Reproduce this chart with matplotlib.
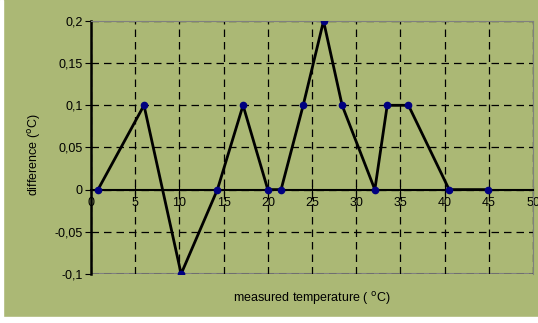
import matplotlib.pyplot as plt
from matplotlib.patches import Rectangle
from matplotlib.ticker import FuncFormatter

# measured temperature vs difference
temp = [0.8, 6.0, 10.2, 14.3, 17.2, 20.0, 21.5, 24.0, 26.3, 28.4, 32.1, 33.5, 35.9, 40.5, 44.9]
diff = [0, 0.1, -0.1, 0, 0.1, 0, 0, 0.1, 0.2, 0.1, 0, 0.1, 0.1, 0, 0]

xticks = [0, 5, 10, 15, 20, 25, 30, 35, 40, 45, 50]
yticks = [-0.1, -0.05, 0, 0.05, 0.1, 0.15, 0.2]

bg = '#abb875'
plt.rcParams['font.family'] = ['Liberation Sans', 'DejaVu Sans']

fig = plt.figure(figsize=(5.38, 3.23), dpi=100, facecolor=bg)
ax = fig.add_axes([0.169, 0.152, 0.822, 0.783])
ax.set_facecolor(bg)

ax.plot(temp, diff, color='black', lw=2, marker='o', ms=4.5,
        mfc='#000080', mec='#000080', zorder=3)

ax.set_xlim(0, 50)
ax.set_ylim(-0.1, 0.2)
ax.set_xticks(xticks)
ax.set_yticks(yticks)

# comma decimals
def comma(v, pos):
    return ('%g' % round(v, 3)).replace('.', ',')
ax.yaxis.set_major_formatter(FuncFormatter(comma))
ax.xaxis.set_major_formatter(FuncFormatter(lambda v, p: '%d' % v))

ax.grid(True, color='black', ls=(0, (6, 4)), lw=0.9)

# axis line through zero
ax.spines['bottom'].set_position(('data', 0))
ax.spines['bottom'].set_linewidth(1.5)
ax.spines['left'].set_linewidth(1.8)
for s in ['top', 'right']:
    ax.spines[s].set_color('#808080')
ax.axhline(ax.get_ylim()[0], color='#808080', lw=1.5, zorder=1)

ax.tick_params(axis='x', direction='inout', length=6, labelsize=9, pad=2)
ax.tick_params(axis='y', direction='out', length=4, labelsize=9, pad=2)

fig.text(0.58, 0.077, 'measured temperature ( $^{\\mathrm{o}}$C)', ha='center', va='center', fontsize=9)
fig.text(0.065, 0.52, 'difference ($^{\\mathrm{o}}$C)', ha='center', va='center', rotation=90, fontsize=9)

# white margins at left and bottom
fig.patches.append(Rectangle((0, 0), 0.0056, 1, transform=fig.transFigure, color='white', zorder=10))
fig.patches.append(Rectangle((0, 0), 1, 0.019, transform=fig.transFigure, color='white', zorder=10))

fig.savefig('out.png', dpi=100, facecolor=bg)
